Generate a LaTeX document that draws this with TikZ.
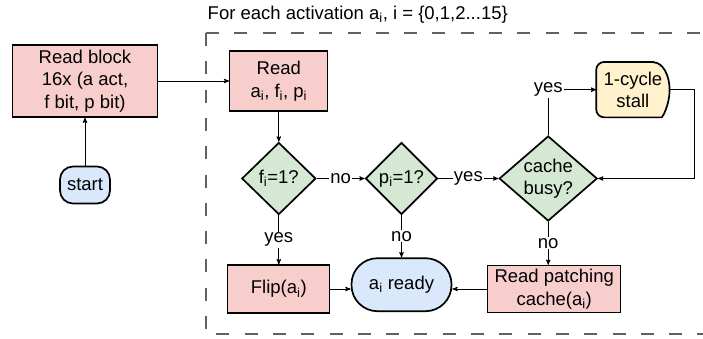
\documentclass[tikz,border=0pt]{standalone}
\usepackage{fontspec}
\setmainfont{Liberation Sans}
\usetikzlibrary{arrows,positioning,shapes.geometric,backgrounds}
\definecolor{pinkfill}{HTML}{F8CECC}
\definecolor{greenfill}{HTML}{D5E8D4}
\definecolor{bluefill}{HTML}{DAE8FC}
\definecolor{yellowfill}{HTML}{FFF2CC}
\newcommand{\flowsize}{\fontsize{18.5pt}{22.5pt}\selectfont}
\tikzset{
    %Define standard arrow tip
    >=stealth',
    %Define style for process boxes
    procbox/.style={
           rectangle,
           draw=black, line width=1.3pt,
           fill=pinkfill,
           inner sep=2pt,
           align=center},
    %Define style for decisions
    decide/.style={
           diamond,
           draw=black, line width=1.7pt,
           fill=greenfill,
           inner sep=0pt,
           align=center},
    %Define style for start and end
    termin/.style={
           rectangle,
           draw=black, line width=1.7pt,
           fill=bluefill,
           inner sep=1pt},
    % Define arrow style
    pil/.style={
           ->,
           line width=0.9pt},
    % labels sitting on the arrows
    pillab/.style={
           fill=white,
           inner sep=1pt},
    frameline/.style={
           draw=black!62, line width=1.3pt,
           dash pattern=on 13pt off 15.3pt}
}
\begin{document}
\begin{tikzpicture}[x=1pt,y=1pt,font=\flowsize]
\useasboundingbox (0,0) rectangle (703,-338);

\node[procbox, minimum width=145pt, minimum height=72pt] (block) at (85,-81)
    {Read block\\16x (a act,\\f bit, p bit)};
\node[termin, rounded corners=13pt, minimum width=50pt, minimum height=37pt,
    below=48pt of block] (start) {start};
\node[procbox, minimum width=98pt, minimum height=60pt, right=71pt of block] (read)
    {Read\\a\textsubscript{i}, f\textsubscript{i}, p\textsubscript{i}};
\node[decide, minimum width=74pt, minimum height=72pt, below=30pt of read] (fdec)
    {f\textsubscript{i}=1?};
\node[decide, minimum width=72pt, minimum height=72pt, right=48pt of fdec] (pdec)
    {p\textsubscript{i}=1?};
\node[decide, aspect=1.2, minimum width=98pt, minimum height=85pt, right=60pt of pdec] (cache)
    {cache\\busy?};
\node[minimum width=73pt, minimum height=55pt, align=center, inner sep=2pt,
    above right=45.5pt and 48pt of cache.north, anchor=west] (stall) {1-cycle\\stall};
\node[procbox, minimum width=102pt, minimum height=48pt, below=49pt of fdec] (flip)
    {Flip(a\textsubscript{i})};
\node[termin, rounded corners=26pt, minimum width=100pt, minimum height=53pt,
    below=42pt of pdec] (ready) {a\textsubscript{i} ready};
\node[procbox, minimum width=133pt, minimum height=47pt, below=43pt of cache, xshift=6pt] (patch)
    {Read patching\\cache(a\textsubscript{i})};

% stall box: rounded on the left, round on the right
\begin{scope}[on background layer]
\draw[line width=1.7pt, fill=yellowfill] ([xshift=-16pt]stall.north east)
    [rounded corners=8pt] -- (stall.north west) -- (stall.south west)
    -- ([xshift=-16pt]stall.south east)
    [sharp corners] arc[start angle=-90, end angle=90, x radius=16pt, y radius=27.5pt] -- cycle;
\end{scope}

% dashed loop frame
\coordinate (framenw) at (206,-33);
\coordinate (framesw) at (206,-334);
\draw[frameline] (framenw) -- ++(520,0);
\draw[frameline] (framenw) -- (framesw) -- ++(520,0);
\node[anchor=base west, inner sep=0pt] (title) at ([shift={(1.5pt,13.5pt)}]framenw)
    {For each activation a\textsubscript{i}, i = \{0,1,2...15\}};

\path[pil]
    (start) edge (block)
    (block) edge (read)
    (read) edge (fdec)
    (fdec) edge node[pillab] {no} (pdec)
           edge node[pillab] {yes} (flip)
    (pdec) edge node[pillab] {yes} (cache)
           edge node[pillab] {no} (ready);
\draw[pil] (cache.north) |- node[pillab, pos=0.5] {yes} (stall.west);
\draw[pil] (stall.east) -- ++(25pt,0) |- (cache.east);
\draw[pil] (cache.south) -- node[pillab] {no} (cache.south |- patch.north);
\draw[pil] (flip.east) -- (flip.east -| ready.west);
\draw[pil] (patch.west) -- (patch.west -| ready.east);

\end{tikzpicture}
\end{document}
